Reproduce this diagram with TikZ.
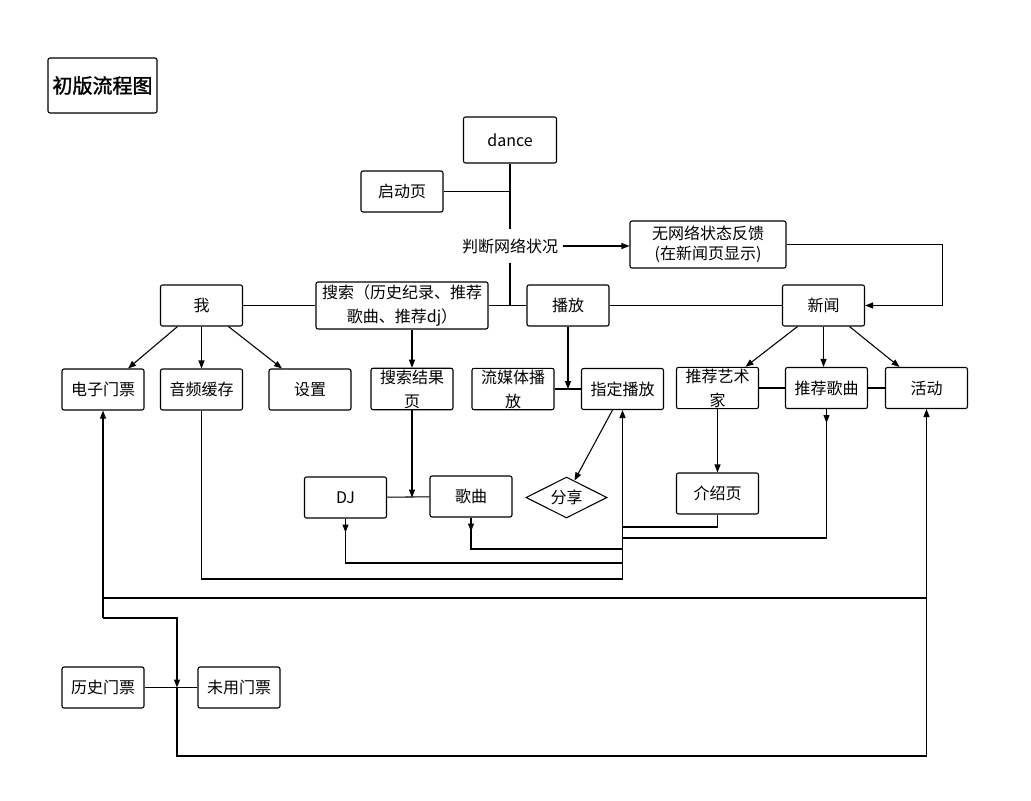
\documentclass[tikz,border=0pt]{standalone}
\usepackage{fontspec}
\setmainfont{Noto Sans CJK SC}
\newfontfamily\titlefont{Noto Sans CJK SC}[FakeBold=1.5]
\usetikzlibrary{arrows.meta,shapes.geometric,calc}

\begin{document}
\begin{tikzpicture}[x=0.75pt,y=-0.75pt,>={Triangle[length=6pt,width=4.5pt]},
		line width=0.8pt,
		main node/.style={rectangle,draw,rounded corners=1.5pt,align=center,inner sep=1pt,
			minimum width=61.5pt,minimum height=30.75pt,font=\fontsize{12}{18}\selectfont},
		share node/.style={diamond,draw,aspect=2,inner sep=1pt,
			minimum width=60.75pt,minimum height=30.75pt,font=\fontsize{12}{18}\selectfont}]
		\useasboundingbox (0,0) rectangle (1031,800);
		
		\node[main node,minimum width=81.75pt,minimum height=41.25pt,
			font=\titlefont\fontsize{15}{18}\selectfont] (0) at (102.5,85.5) {初版流程图};
		
		\node[main node,minimum width=69.75pt,minimum height=34.5pt] (1) at (510,140) {dance};
		\node[main node] (2) at (402,191.5) {启动页};
		\node[inner xsep=3pt,inner ysep=7pt,font=\fontsize{12}{18}\selectfont] (3) at (510,246) {判断网络状况};
		\node[main node,minimum width=117pt,minimum height=35.25pt,
			font=\fontsize{12}{15}\selectfont] (4) at (708,244.5) {无网络状态反馈\\(在新闻页显示)};
		
		\node[main node] (5) at (201.5,305.5) {我};
		\node[main node,minimum width=129pt,minimum height=35.25pt] (6) at (402,305.5) {搜索（历史纪录、推荐\\歌曲、推荐dj）};
		\node[main node] (7) at (568,305.5) {播放};
		\node[main node] (8) at (823.5,305.5) {新闻};
		
		\node[main node] (9) at (103,389.5) {电子门票};
		\node[main node] (10) at (201.5,389.5) {音频缓存};
		\node[main node] (11) at (310,389.5) {设置};
		\node[main node] (12) at (412,389) {搜索结果\\页};
		\node[main node] (13) at (513,389) {流媒体播\\放};
		\node[main node] (14) at (622.5,389) {指定播放};
		\node[main node] (15) at (717.5,388) {推荐艺术\\家};
		\node[main node] (16) at (826.5,388) {推荐歌曲};
		\node[main node] (17) at (926.5,388) {活动};
		
		\node[main node] (18) at (345.5,497.5) {DJ};
		\node[main node] (19) at (471,496.5) {歌曲};
		\node[share node] (20) at (566.5,497.5) {分享};
		\node[main node] (21) at (717.5,493.5) {介绍页};
		
		\node[main node] (22) at (103,687.5) {历史门票};
		\node[main node] (23) at (239,687.5) {未用门票};
		
		% start and network check
		\draw (1) -- (3);
		\draw (2) -- (2 -| 1);
		\draw (3) -- (3 |- 5);
		\draw[->] (3) -- (3 -| 4.west);
		\draw[->] (4.east) -- ++(156,0) |- (8);
		\draw (5) -- (6);
		\draw (6) -- (7);
		\draw (7) -- (8);
		
		% second row
		\draw[->] ($(5.south)+(-24,0)$) -- ($(9.north)+(25,0)$);
		\draw[->] (5) -- (10);
		\draw[->] ($(5.south)+(27,0)$) -- ($(11.north)+(-28,0)$);
		\draw[->] (6.south -| 12) -- (12);
		\draw[->] (7) -- (7 |- 13);
		\draw (13) -- (14);
		\draw[->] ($(8.south)+(-26,0)$) -- ($(15.north)+(28,0)$);
		\draw[->] (8) -- (8 |- 16.north);
		\draw[->] ($(8.south)+(26,0)$) -- ($(17.north)+(-27,0)$);
		\draw (15) -- (16);
		\draw (16) -- (17);
		
		% third row
		\draw[->] (12) -- (12 |- 18);
		\draw (18) -- (19);
		\draw[->] ($(14.south)+(-10,0)$) -- ($(20.north)+(8,4)$);
		\draw[->] (15) -- (21);
		
		% back to 指定播放
		\coordinate (c1) at (14.south |- 0,579);
		\draw (10) |- (c1);
		\draw[->] (c1) -- (14);
		\draw[->] (18.south) -- ++(0,14);
		\draw (18.south) |- (14.south |- 0,563);
		\draw[->] (19.south) -- ++(0,14);
		\draw (19.south) |- (14.south |- 0,549);
		\draw (21) |- (14.south |- 0,527);
		\draw[->] (16.south) -- ++(0,14);
		\draw (16.south) |- (14.south |- 0,538);
		
		% tickets
		\coordinate (c2) at (9.south |- 0,618);
		\coordinate (c3) at (177,687.5);
		\draw[->] (c2) -- (9);
		\draw[->] (c2) -| (c3);
		\draw (22) -- (23);
		\draw (9.south |- 0,598) -- (17.south |- 0,598);
		\draw[->] (c3) |- (17.south |- 0,756) -- (17);
\end{tikzpicture}
\end{document}
